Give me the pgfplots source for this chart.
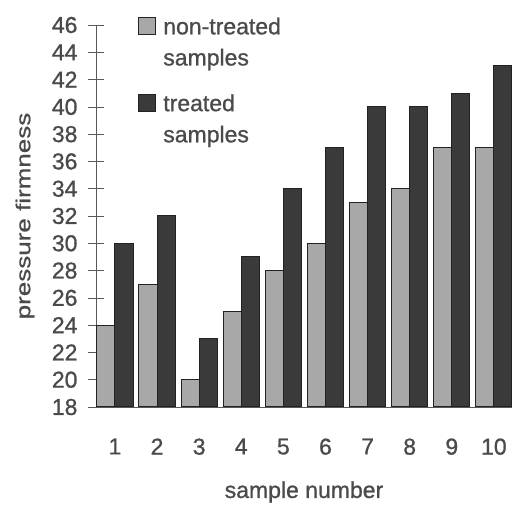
\documentclass[border=0pt]{standalone}
\usepackage{fontspec}
\setmainfont[FakeBold=0.9]{Liberation Sans}
\newfontfamily\stretchfont[FakeStretch=1.3, FakeBold=0.9]{Liberation Sans}
\usepackage{pgfplots}
\pgfplotsset{compat=1.18}
\definecolor{txt}{HTML}{4A4A4A}
\definecolor{lightbar}{HTML}{A8A8A8}
\definecolor{darkbar}{HTML}{3A3A3A}
\definecolor{edge}{HTML}{222222}
\begin{document}
\begin{tikzpicture}
\path[use as bounding box] (-96pt,-99pt) rectangle (416pt,407pt);
\begin{axis}[
  scale only axis,
  width=416pt, height=382pt,
  xmin=0.55, xmax=10.43,
  ymin=18, ymax=46,
  axis lines=left,
  axis line style={-, black!65, line width=0.6pt},
  x axis line style={shorten <=-8pt},
  xtick={1,...,10},
  ytick={18,20,...,46},
  major x tick style={draw=none},
  major y tick style={black!65, line width=0.6pt},
  tick align=center,
  major tick length=16pt,
  /pgf/number format/assume math mode=true,
  tick label style={font=\fontsize{23}{25}\selectfont, text=txt},
  yticklabel style={xshift=-7pt},
  xticklabel style={yshift=-20pt},
  xlabel={sample number},
  ylabel={pressure firmness},
  xlabel style={at={(axis description cs:0.5,0)}, anchor=center, yshift=-85pt,
    font=\fontsize{23}{25}\selectfont, text=txt},
  ylabel style={at={(axis description cs:0,0.5)}, anchor=center, yshift=71pt,
    font=\stretchfont\fontsize{20}{24}\selectfont, text=txt},
  legend style={at={(axis description cs:0.1,1.025)}, anchor=north west,
    draw=none, fill=none, inner sep=0pt, row sep=9pt,
    font=\fontsize{23}{25}\selectfont, text=txt,
    cells={anchor=base west, inner sep=0pt}},
  legend image code/.code={\draw[#1] (0pt,0pt) rectangle (17pt,17pt);
    \path[draw=none, fill=none] (0pt,0pt) -- (23pt,0pt);},
]
\addplot[ybar, bar width=0.43, bar shift=-0.215, fill=lightbar, draw=edge, line width=1pt]
  coordinates {(1,24) (2,27) (3,20) (4,25) (5,28) (6,30) (7,33) (8,34) (9,37) (10,37)};
\addlegendentry{non-treated}
\addlegendimage{legend image code/.code={\path[draw=none, fill=none] (0pt,0pt) -- (0pt,-18pt);}}
\addlegendentry{samples}
\addplot[ybar, bar width=0.43, bar shift=0.215, fill=darkbar, draw=edge, line width=1pt]
  coordinates {(1,30) (2,32) (3,23) (4,29) (5,34) (6,37) (7,40) (8,40) (9,41) (10,43)};
\addlegendentry{treated}
\addlegendimage{empty legend}
\addlegendentry{samples}
\end{axis}
\end{tikzpicture}
\end{document}
